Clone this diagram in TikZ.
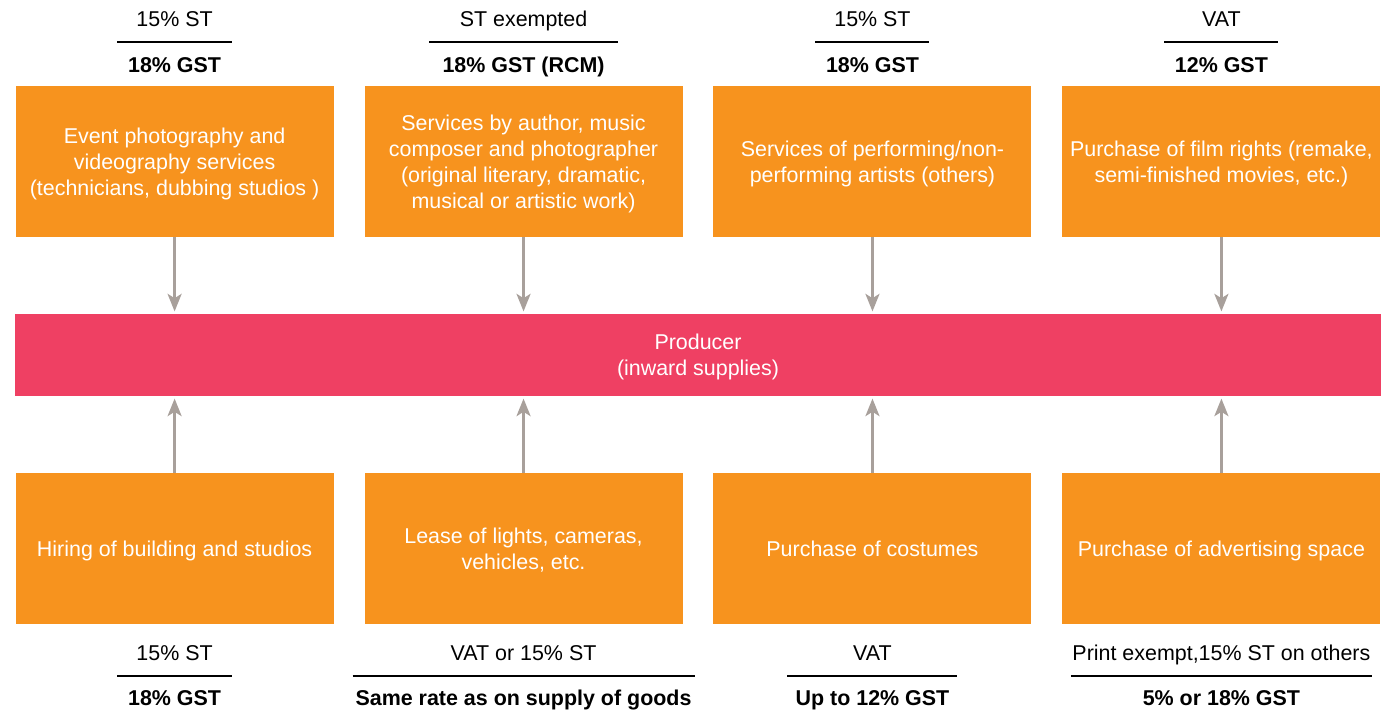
\documentclass[tikz,border=0pt]{standalone}
\usepackage{fontspec}
\setmainfont{Liberation Sans}
\usetikzlibrary{arrows.meta}

\definecolor{boxorange}{RGB}{247,147,30}
\definecolor{barpink}{RGB}{239,64,99}
\definecolor{arrowgray}{RGB}{168,160,155}

\tikzset{
  supply/.style={fill=boxorange, text=white, anchor=center, align=center,
    text depth=0pt, minimum width=6.36cm, minimum height=3.02cm, inner sep=0pt},
  producer/.style={fill=barpink, text=white, align=center, text depth=0pt,
    minimum width=27.32cm, minimum height=1.66cm, inner sep=0pt},
  oldrate/.style={anchor=base, inner sep=0pt},
  newrate/.style={anchor=base, inner sep=0pt, font=\bfseries},
  rule/.style={line width=1pt, black},
  flow/.style={->, line width=1.4pt, arrowgray, shorten >=1pt},
}

\begin{document}
\fontsize{12.2}{14.8}\selectfont
\begin{tikzpicture}[x=0.02cm, y=-0.02cm,
  >={Stealth[length=10pt, width=8pt, inset=2.5pt]}]
  \useasboundingbox (0,0) rectangle (1395,710);
  \matrix[row sep = 4.72cm, column sep = 0.62cm] (grid) at (698,355) {
    \node[supply](s1) {Event photography and\\videography services\\(technicians, dubbing studios )};&
    \node[supply](s2) {Services by author, music\\composer and photographer\\(original literary, dramatic,\\musical or artistic work)};&
    \node[supply](s3) {Services of performing/non-\\performing artists (others)};&
    \node[supply](s4) {Purchase of film rights (remake,\\semi-finished movies, etc.)};\\
    \node[supply](b1) {Hiring of building and studios};&
    \node[supply](b2) {Lease of lights, cameras,\\vehicles, etc.};&
    \node[supply](b3) {Purchase of costumes};&
    \node[supply](b4) {Purchase of advertising space};\\
  };
  \node[producer] (prod) at (grid.center) {Producer\\(inward supplies)};

  % rates above the top row
  \node[oldrate] (o1) at ([yshift=1.18cm]s1.north) {15\% ST};
  \node[newrate] (n1) at ([yshift=0.26cm]s1.north) {18\% GST};
  \coordinate (r1) at ([yshift=0.88cm]s1.north);
  \node[oldrate] (o2) at ([yshift=1.18cm]s2.north) {ST exempted};
  \node[newrate] (n2) at ([yshift=0.26cm]s2.north) {18\% GST (RCM)};
  \coordinate (r2) at ([yshift=0.88cm]s2.north);
  \node[oldrate] (o3) at ([yshift=1.18cm]s3.north) {15\% ST};
  \node[newrate] (n3) at ([yshift=0.26cm]s3.north) {18\% GST};
  \coordinate (r3) at ([yshift=0.88cm]s3.north);
  \node[oldrate] (o4) at ([yshift=1.18cm]s4.north) {VAT};
  \node[newrate] (n4) at ([yshift=0.26cm]s4.north) {12\% GST};
  \coordinate (r4) at ([yshift=0.88cm]s4.north);

  % rates below the bottom row
  \node[oldrate] (o5) at ([yshift=-0.72cm]b1.south) {15\% ST};
  \node[newrate] (n5) at ([yshift=-1.62cm]b1.south) {18\% GST};
  \coordinate (r5) at ([yshift=-1.04cm]b1.south);
  \node[oldrate] (o6) at ([yshift=-0.72cm]b2.south) {VAT or 15\% ST};
  \node[newrate] (n6) at ([yshift=-1.62cm]b2.south) {Same rate as on supply of goods};
  \coordinate (r6) at ([yshift=-1.04cm]b2.south);
  \node[oldrate] (o7) at ([yshift=-0.72cm]b3.south) {VAT};
  \node[newrate] (n7) at ([yshift=-1.62cm]b3.south) {Up to 12\% GST};
  \coordinate (r7) at ([yshift=-1.04cm]b3.south);
  \node[oldrate] (o8) at ([yshift=-0.72cm]b4.south) {Print exempt,15\% ST on others};
  \node[newrate] (n8) at ([yshift=-1.62cm]b4.south) {5\% or 18\% GST};
  \coordinate (r8) at ([yshift=-1.04cm]b4.south);

  \draw[rule] ([xshift=-1.15cm]r1) -- ([xshift=1.15cm]r1);
  \draw[rule] ([xshift=-1.89cm]r2) -- ([xshift=1.89cm]r2);
  \draw[rule] ([xshift=-1.14cm]r3) -- ([xshift=1.14cm]r3);
  \draw[rule] ([xshift=-1.14cm]r4) -- ([xshift=1.14cm]r4);
  \draw[rule] ([xshift=-1.15cm]r5) -- ([xshift=1.15cm]r5);
  \draw[rule] ([xshift=-3.42cm]r6) -- ([xshift=3.42cm]r6);
  \draw[rule] ([xshift=-1.70cm]r7) -- ([xshift=1.70cm]r7);
  \draw[rule] ([xshift=-3.01cm]r8) -- ([xshift=3.01cm]r8);

  \path[flow]
    (s1) edge (s1 |- prod.north)
    (s2) edge (s2 |- prod.north)
    (s3) edge (s3 |- prod.north)
    (s4) edge (s4 |- prod.north)
    (b1) edge (b1 |- prod.south)
    (b2) edge (b2 |- prod.south)
    (b3) edge (b3 |- prod.south)
    (b4) edge (b4 |- prod.south)
    ;
\end{tikzpicture}
\end{document}
